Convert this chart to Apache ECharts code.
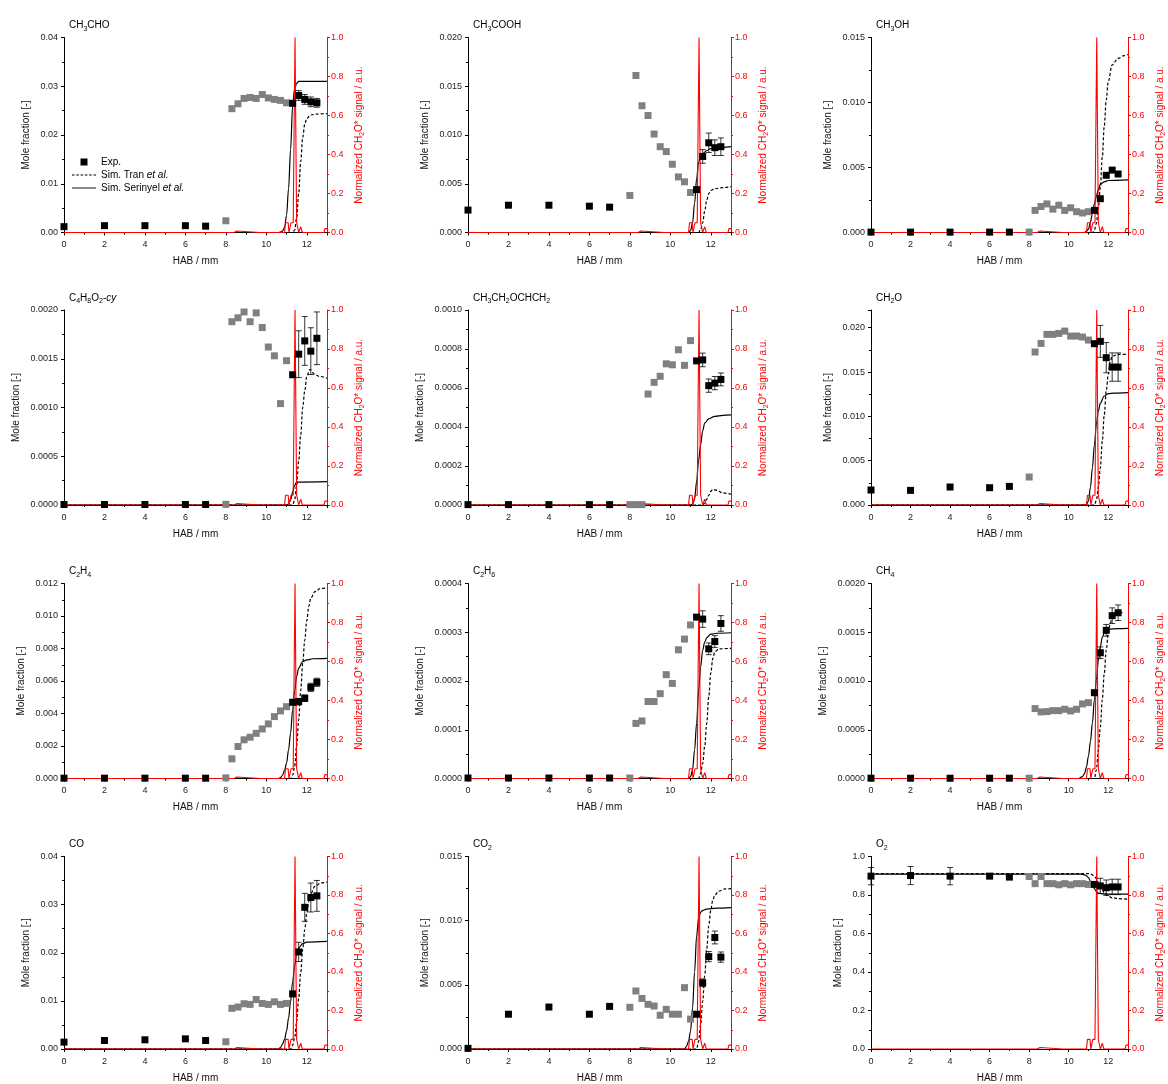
<!DOCTYPE html>
<html><head><meta charset="utf-8">
<script src="https://cdn.jsdelivr.net/npm/echarts@6/dist/echarts.min.js"></script>
<style>html,body{margin:0;padding:0;background:#fff}#c{width:1168px;height:1084px}</style>
</head><body><div id="c"></div>
<script>
// ---------------- DATA ----------------
const xBlack = [0, 2, 4, 6, 7, 11.3, 11.6, 11.9, 12.2, 12.5];
const xGrey = [8.0, 8.3, 8.6, 8.9, 9.2, 9.5, 9.8, 10.1, 10.4, 10.7, 11.0];

// normalized CH2O* chemiluminescence signal (same in every panel)
const signal = [[0,0],[8.4,0],[8.45,0.008],[8.55,0.008],[8.6,0],[9.7,0],[9.75,0.004],[9.8,0],[10.3,0],[10.35,0.004],[10.4,0],[10.9,0],[10.95,0.05],[11.08,0.05],[11.12,0],[11.18,0],[11.22,0.05],[11.33,0.05],[11.38,0.6],[11.42,1.0],[11.46,0.5],[11.5,0.05],[11.56,0.05],[11.6,0],[11.67,0],[11.7,0.03],[11.74,0.03],[11.78,0],[11.95,0],[12.0,0.01],[12.05,0],[12.85,0],[12.9,0.02],[13,0.02]];

// CH3CHO
const ch3cho_exp = [0.0012, 0.0014, 0.0014, 0.0014, 0.0013, 0.0265, 0.0281, 0.0273, 0.0268, 0.0266];
const ch3cho_err = [0, 0, 0, 0, 0, 0, 0.001, 0.001, 0.001, 0.0009];
const ch3cho_grey = [0.0024, 0.0254, 0.0264, 0.0275, 0.0277, 0.0275, 0.0283, 0.0276, 0.0273, 0.0271, 0.0266];
const ch3cho_ser = [[0,0],[10.6,0],[10.7,0.0001],[10.8,0.0003],[10.9,0.001],[11.0,0.0035],[11.1,0.009],[11.2,0.017],[11.3,0.026],[11.4,0.0295],[11.5,0.0306],[11.6,0.031],[13,0.031]];
const ch3cho_tran = [[0,0],[11.3,0],[11.4,0.0005],[11.5,0.003],[11.6,0.008],[11.7,0.0145],[11.8,0.0195],[11.9,0.0222],[12.0,0.0234],[12.2,0.0241],[12.5,0.0243],[13,0.0244]];

// CH3COOH
const ch3cooh_exp = [0.0023, 0.0028, 0.0028, 0.0027, 0.0026, 0.0044, 0.0078, 0.0092, 0.0087, 0.0088];
const ch3cooh_err = [0, 0, 0, 0, 0, 0, 0.0007, 0.001, 0.0008, 0.0009];
const ch3cooh_grey = [0.0038, 0.0161, 0.0130, 0.0120, 0.0101, 0.0088, 0.0083, 0.0070, 0.0057, 0.0052, 0.0041];
const ch3cooh_ser = [[0,0],[10.9,0],[11.0,0.0002],[11.1,0.001],[11.2,0.003],[11.3,0.0055],[11.4,0.0072],[11.5,0.0078],[11.6,0.0081],[11.8,0.0084],[12.0,0.0086],[12.3,0.0087],[13,0.0088]];
const ch3cooh_tran = [[0,0],[11.4,0],[11.5,0.0003],[11.6,0.001],[11.7,0.0022],[11.8,0.0033],[11.9,0.004],[12.0,0.0043],[12.2,0.0045],[12.6,0.0046],[13,0.0047]];

// CH3OH
const ch3oh_exp = [0.00003, 0.00003, 0.00003, 0.00003, 0.00003, 0.0017, 0.0026, 0.0044, 0.0048, 0.0045];
const ch3oh_err = [0, 0, 0, 0, 0, 0, 0.0001, 0.0001, 0.0001, 0.0001];
const ch3oh_grey = [0.00003, 0.0017, 0.0020, 0.0022, 0.0018, 0.0021, 0.0017, 0.0019, 0.0016, 0.0015, 0.0016];
const ch3oh_ser = [[0,0],[10.8,0],[10.9,0.0001],[11.0,0.00026],[11.1,0.0008],[11.2,0.0015],[11.3,0.0022],[11.4,0.0028],[11.5,0.0033],[11.6,0.0037],[11.8,0.0039],[12.0,0.004],[13,0.00405]];
const ch3oh_tran = [[0,0],[11.2,0],[11.3,0.0002],[11.4,0.0007],[11.5,0.0018],[11.6,0.0035],[11.7,0.0058],[11.8,0.0082],[11.9,0.0102],[12.0,0.0116],[12.2,0.0129],[12.5,0.0134],[12.8,0.0136],[13,0.0137]];

// C4H8O2-cy
const c4h8o2_exp = [0.000005, 0.000005, 0.000005, 0.000005, 0.000005, 0.001336, 0.001547, 0.001683, 0.001578, 0.00171];
const c4h8o2_err = [0, 0, 0, 0, 0, 0, 0.00024, 0.00025, 0.00024, 0.00027];
const c4h8o2_grey = [0.000007, 0.00188, 0.00192, 0.00198, 0.00188, 0.00197, 0.00182, 0.00162, 0.00153, 0.00104, 0.00148];
const c4h8o2_ser = [[0,0],[11.0,0],[11.1,0.00001],[11.2,0.00005],[11.3,0.00013],[11.4,0.0002],[11.5,0.000235],[13,0.00024]];
const c4h8o2_tran = [[0,0],[11.3,0],[11.4,0.00005],[11.5,0.0002],[11.6,0.00045],[11.7,0.00072],[11.8,0.001],[11.9,0.00117],[12.0,0.00132],[12.15,0.00139],[12.4,0.00134],[12.6,0.00132],[13,0.0013]];

// CH3CH2OCHCH2
const eve_exp = [0.000002, 0.000002, 0.000002, 0.000002, 0.000002, 0.000739, 0.000744, 0.000612, 0.000625, 0.000644];
const eve_err = [0, 0, 0, 0, 0, 0, 0.000035, 0.000034, 0.000034, 0.000033];
const eve_grey = [0.000002, 0.000002, 0.000002, 0.000569, 0.000629, 0.00066, 0.000724, 0.000719, 0.000796, 0.000716, 0.000843];
const eve_ser = [[0,0],[11.0,0],[11.1,0.000005],[11.2,0.00003],[11.3,0.00012],[11.4,0.00023],[11.5,0.00031],[11.6,0.00038],[11.7,0.00042],[11.9,0.000442],[12.2,0.000455],[12.6,0.00046],[13,0.000462]];
const eve_tran = [[0,0],[11.6,0],[11.7,0.00001],[11.8,0.00003],[11.9,0.00005],[12.0,0.00007],[12.1,0.00008],[12.3,0.000075],[12.6,0.000062],[13,0.000055]];

// CH2O
const ch2o_exp = [0.00169, 0.00165, 0.00203, 0.00195, 0.0021, 0.0182, 0.01846, 0.01662, 0.01556, 0.01556];
const ch2o_err = [0, 0, 0, 0, 0, 0, 0.0018, 0.0017, 0.0016, 0.0016];
const ch2o_grey = [0.00316, 0.01726, 0.01823, 0.01925, 0.01925, 0.01936, 0.01962, 0.01906, 0.01906, 0.01895, 0.01861];
const ch2o_ser = [[0,0],[10.8,0],[10.9,0.0001],[11.0,0.00045],[11.1,0.002],[11.2,0.0042],[11.3,0.0068],[11.4,0.0091],[11.5,0.0106],[11.6,0.0115],[11.8,0.0123],[12.0,0.01256],[12.3,0.01262],[13,0.01267]];
const ch2o_tran = [[0,0],[11.3,0],[11.4,0.0005],[11.5,0.002],[11.6,0.0042],[11.7,0.0072],[11.8,0.0102],[11.9,0.0129],[12.0,0.0147],[12.1,0.0162],[12.2,0.0168],[12.5,0.017],[13,0.017]];

// C2H4
const c2h4_exp = [0.00002, 0.00002, 0.00002, 0.00002, 0.00002, 0.00469, 0.00473, 0.00494, 0.00561, 0.00592];
const c2h4_err = [0, 0, 0, 0, 0, 0, 0.0002, 0.0002, 0.00025, 0.00025];
const c2h4_grey = [0.00004, 0.00121, 0.00197, 0.00238, 0.00254, 0.00278, 0.00305, 0.00336, 0.00381, 0.00416, 0.00442];
const c2h4_ser = [[0,0],[10.6,0],[10.7,0.00005],[10.8,0.0002],[10.9,0.0005],[11.0,0.00094],[11.1,0.00176],[11.2,0.0028],[11.3,0.0042],[11.4,0.0054],[11.5,0.0063],[11.6,0.0068],[11.8,0.0072],[12.0,0.0073],[12.3,0.00737],[13,0.00739]];
const c2h4_tran = [[0,0],[11.2,0],[11.3,0.0002],[11.4,0.00074],[11.5,0.002],[11.6,0.0036],[11.7,0.0054],[11.8,0.0071],[11.9,0.0085],[12.0,0.0097],[12.1,0.0106],[12.2,0.0111],[12.4,0.0115],[12.7,0.0117],[13,0.01173]];

// C2H6
const c2h6_exp = [0.000001, 0.000001, 0.000001, 0.000001, 0.000001, 0.000331, 0.000327, 0.000266, 0.000281, 0.000318];
const c2h6_err = [0, 0, 0, 0, 0, 0, 0.000017, 0.000012, 0.000012, 0.000016];
const c2h6_grey = [0.000001, 0.000113, 0.000118, 0.000158, 0.000158, 0.000174, 0.000213, 0.000195, 0.000264, 0.000286, 0.000315];
const c2h6_ser = [[0,0],[10.9,0],[11.0,0.000004],[11.1,0.000018],[11.2,0.000059],[11.3,0.000113],[11.4,0.000182],[11.5,0.000229],[11.6,0.000263],[11.7,0.00028],[11.8,0.000289],[12.0,0.000296],[12.3,0.000298],[13,0.000299]];
const c2h6_tran = [[0,0],[11.4,0],[11.5,0.000011],[11.6,0.000031],[11.7,0.000066],[11.8,0.000113],[11.9,0.000168],[12.0,0.000216],[12.1,0.000246],[12.2,0.00026],[12.4,0.000266],[13,0.000267]];

// CH4
const ch4_exp = [0.000003, 0.000003, 0.000003, 0.000003, 0.000003, 0.00088, 0.00129, 0.00152, 0.00167, 0.0017];
const ch4_err = [0, 0, 0, 0, 0, 0, 0.00006, 0.00006, 0.00008, 0.00008];
const ch4_grey = [0.000003, 0.000717, 0.000683, 0.000686, 0.000696, 0.000696, 0.00071, 0.000693, 0.00071, 0.000765, 0.000778];
const ch4_ser = [[0,0],[10.5,0],[10.7,0.00002],[10.8,0.00005],[10.9,0.00012],[11.0,0.00023],[11.1,0.00038],[11.2,0.00057],[11.3,0.00081],[11.4,0.00101],[11.5,0.00121],[11.6,0.00135],[11.7,0.00145],[11.8,0.00149],[12.0,0.00153],[12.5,0.001538],[13,0.00154]];
const ch4_tran = [[0,0],[11.3,0],[11.4,0.00009],[11.5,0.00029],[11.6,0.00053],[11.7,0.00081],[11.8,0.00108],[11.9,0.00132],[12.0,0.00149],[12.1,0.00159],[12.2,0.00166],[12.4,0.00169],[12.8,0.00171]];

// CO
const co_exp = [0.00143, 0.00177, 0.00191, 0.00211, 0.00177, 0.01145, 0.02017, 0.02944, 0.03148, 0.03182];
const co_err = [0, 0, 0, 0, 0, 0, 0.002, 0.0029, 0.003, 0.0032];
const co_grey = [0.0015, 0.00845, 0.00872, 0.0094, 0.00927, 0.01029, 0.00947, 0.00927, 0.00981, 0.00927, 0.00947];
const co_ser = [[0,0],[10.6,0],[10.7,0.0003],[10.8,0.001],[10.9,0.002],[11.0,0.0037],[11.1,0.0064],[11.2,0.0098],[11.3,0.0139],[11.4,0.0173],[11.5,0.0197],[11.6,0.021],[11.8,0.0219],[12.0,0.0222],[13,0.02235]];
const co_tran = [[0,0],[11.2,0],[11.3,0.0008],[11.4,0.0023],[11.5,0.0057],[11.6,0.0105],[11.7,0.0159],[11.8,0.0207],[11.9,0.0248],[12.0,0.0282],[12.1,0.0306],[12.2,0.0323],[12.4,0.0338],[12.7,0.0345],[13,0.03468]];

// CO2
const co2_exp = [0.00005, 0.00271, 0.00327, 0.00271, 0.00332, 0.00271, 0.00516, 0.0072, 0.00869, 0.00716];
const co2_err = [0, 0, 0, 0, 0, 0, 0.0003, 0.0004, 0.0005, 0.0004];
const co2_grey = [0.00325, 0.00452, 0.00394, 0.00348, 0.00335, 0.00263, 0.00309, 0.00271, 0.00271, 0.00478, 0.00233];
const co2_ser = [[0,0],[10.7,0],[10.8,0.0002],[10.9,0.0006],[11.0,0.0014],[11.1,0.0032],[11.2,0.006],[11.3,0.0088],[11.4,0.0102],[11.5,0.01066],[11.6,0.0108],[11.8,0.0109],[12.3,0.01097],[13,0.01101]];
const co2_tran = [[0,0],[11.3,0],[11.4,0.0006],[11.5,0.0019],[11.6,0.0037],[11.7,0.0057],[11.8,0.0078],[11.9,0.0096],[12.0,0.0108],[12.1,0.0116],[12.2,0.012],[12.4,0.0123],[12.7,0.01247],[13,0.0125]];

// O2
const o2_exp = [0.898, 0.901, 0.898, 0.898, 0.893, 0.855, 0.847, 0.838, 0.842, 0.842];
const o2_err = [0.045, 0.047, 0.045, 0, 0, 0, 0.04, 0.04, 0.04, 0.04];
const o2_grey = [0.896, 0.859, 0.896, 0.859, 0.859, 0.853, 0.859, 0.853, 0.859, 0.859, 0.855];
const o2_ser = [[0,0.908],[10.6,0.908],[10.7,0.907],[10.8,0.905],[10.9,0.9],[11.0,0.89],[11.1,0.872],[11.2,0.852],[11.3,0.833],[11.4,0.818],[11.5,0.81],[11.7,0.806],[12.0,0.805],[13,0.805]];
const o2_tran = [[0,0.911],[11.0,0.911],[11.1,0.91],[11.2,0.905],[11.3,0.897],[11.4,0.885],[11.5,0.866],[11.6,0.846],[11.7,0.827],[11.8,0.812],[11.9,0.801],[12.0,0.794],[12.2,0.786],[12.5,0.781],[13,0.778]];

// panel titles and left-axis ranges
const titles = ['CH{s|3}CHO','CH{s|3}COOH','CH{s|3}OH','C{s|4}H{s|8}O{s|2}-{i|cy}','CH{s|3}CH{s|2}OCHCH{s|2}','CH{s|2}O','C{s|2}H{s|4}','C{s|2}H{s|6}','CH{s|4}','CO','CO{s|2}','O{s|2}'];
const yMax = [0.04, 0.02, 0.015, 0.002, 0.001, 0.022, 0.012, 0.0004, 0.002, 0.04, 0.015, 1.0];
const yStep = [0.01, 0.005, 0.005, 0.0005, 0.0002, 0.005, 0.002, 0.0001, 0.0005, 0.01, 0.005, 0.2];
const yDec = [2, 3, 3, 4, 4, 3, 3, 4, 4, 2, 3, 1];
const xTicks = {min: 0, max: 13, step: 2};
const sigTicks = {min: 0, max: 1, step: 0.2};

const expAll = [ch3cho_exp, ch3cooh_exp, ch3oh_exp, c4h8o2_exp, eve_exp, ch2o_exp, c2h4_exp, c2h6_exp, ch4_exp, co_exp, co2_exp, o2_exp];
const errAll = [ch3cho_err, ch3cooh_err, ch3oh_err, c4h8o2_err, eve_err, ch2o_err, c2h4_err, c2h6_err, ch4_err, co_err, co2_err, o2_err];
const greyAll = [ch3cho_grey, ch3cooh_grey, ch3oh_grey, c4h8o2_grey, eve_grey, ch2o_grey, c2h4_grey, c2h6_grey, ch4_grey, co_grey, co2_grey, o2_grey];
const serAll = [ch3cho_ser, ch3cooh_ser, ch3oh_ser, c4h8o2_ser, eve_ser, ch2o_ser, c2h4_ser, c2h6_ser, ch4_ser, co_ser, co2_ser, o2_ser];
const tranAll = [ch3cho_tran, ch3cooh_tran, ch3oh_tran, c4h8o2_tran, eve_tran, ch2o_tran, c2h4_tran, c2h6_tran, ch4_tran, co_tran, co2_tran, o2_tran];

// ---------------- LAYOUT / STYLE ----------------
const FONT = "'Liberation Sans', Arial, sans-serif";
const colLeft = [64, 468, 871];
const rowTop = [37.5, 310, 583.5, 856.5];
const PW = 263, PH = 195;
const RED = '#ff0000';
const subRich = (color) => ({
  s: {fontSize: 7, lineHeight: 7, verticalAlign: 'bottom', fontFamily: FONT, color: color},
  i: {fontSize: 10, fontStyle: 'italic', fontFamily: FONT, color: color}
});

const grid = [], xAxis = [], yAxis = [], series = [], title = [];

for (let i = 0; i < 12; i++) {
  const r = Math.floor(i / 3), c = i % 3;
  grid.push({left: colLeft[c], top: rowTop[r], width: PW, height: PH, containLabel: false});
  title.push({
    text: titles[i], left: colLeft[c], top: rowTop[r] - 24,
    textStyle: {fontSize: 10, fontWeight: 'normal', fontFamily: FONT, color: '#000', lineHeight: 14, rich: subRich('#000')}
  });
  xAxis.push({
    gridIndex: i, type: 'value', min: xTicks.min, max: xTicks.max, interval: xTicks.step,
    name: 'HAB / mm', nameLocation: 'middle', nameGap: 24,
    nameTextStyle: {fontSize: 10, fontFamily: FONT, color: '#111'},
    axisLine: {lineStyle: {color: '#000', width: 1}},
    axisTick: {length: 3, lineStyle: {color: '#000'}},
    minorTick: {show: true, splitNumber: 2, length: 2, lineStyle: {color: '#000'}},
    axisLabel: {fontSize: 9, fontFamily: FONT, color: '#222', margin: 8, showMaxLabel: false},
    splitLine: {show: false}
  });
  const dec = yDec[i];
  yAxis.push({
    gridIndex: i, type: 'value', position: 'left', min: 0, max: yMax[i], interval: yStep[i],
    name: 'Mole fraction [-]', nameLocation: 'middle', nameGap: 23 + 5 * dec, nameRotate: 90,
    nameTextStyle: {fontSize: 10, fontFamily: FONT, color: '#111'},
    axisLine: {show: true, lineStyle: {color: '#000', width: 1}},
    axisTick: {show: true, length: 3, lineStyle: {color: '#000'}},
    minorTick: {show: true, splitNumber: 2, length: 2, lineStyle: {color: '#000'}},
    axisLabel: {fontSize: 9, fontFamily: FONT, color: '#222', margin: 6,
      showMaxLabel: i !== 5, formatter: v => v.toFixed(dec)},
    splitLine: {show: false}
  });
  yAxis.push({
    gridIndex: i, type: 'value', position: 'right', min: sigTicks.min, max: sigTicks.max, interval: sigTicks.step,
    name: 'Normalized CH{s|2}O* signal / a.u.', nameLocation: 'middle', nameGap: 25, nameRotate: 90,
    nameTextStyle: {fontSize: 10, fontFamily: FONT, color: RED, lineHeight: 14, rich: subRich(RED)},
    axisLine: {show: true, lineStyle: {color: RED, width: 1}},
    axisTick: {show: true, length: 3, lineStyle: {color: RED}},
    minorTick: {show: true, splitNumber: 2, length: 2, lineStyle: {color: RED}},
    axisLabel: {fontSize: 9, fontFamily: FONT, color: RED, margin: 4, formatter: v => v.toFixed(1)},
    splitLine: {show: false}
  });

  const xi = i, yl = 2 * i, yr = 2 * i + 1;
  series.push({
    name: 'Sim. Serinyel et al.', type: 'line', xAxisIndex: xi, yAxisIndex: yl,
    data: serAll[i], showSymbol: false, symbol: 'none', smooth: 0.35, smoothMonotone: 'x',
    lineStyle: {color: '#000', width: 1.2}, itemStyle: {color: '#000'}, z: 2, silent: true
  });
  series.push({
    name: 'Sim. Tran et al.', type: 'line', xAxisIndex: xi, yAxisIndex: yl,
    data: tranAll[i], showSymbol: false, symbol: 'none', smooth: 0.35, smoothMonotone: 'x',
    lineStyle: {color: '#000', width: 1.2, type: [3, 2]}, itemStyle: {color: '#000'}, z: 2, silent: true
  });
  series.push({
    name: 'CH2O* signal', type: 'line', xAxisIndex: xi, yAxisIndex: yr,
    data: signal, showSymbol: false, symbol: 'none',
    lineStyle: {color: RED, width: 1.1}, itemStyle: {color: RED}, z: 3, silent: true
  });
  series.push({
    name: 'Exp. (grey)', type: 'scatter', xAxisIndex: xi, yAxisIndex: yl,
    data: xGrey.map((x, k) => [x, greyAll[i][k]]), symbol: 'rect', symbolSize: 7,
    itemStyle: {color: '#808080', opacity: 1}, z: 4, silent: true
  });
  series.push({
    name: 'Exp.', type: 'scatter', xAxisIndex: xi, yAxisIndex: yl,
    data: xBlack.map((x, k) => [x, expAll[i][k]]), symbol: 'rect', symbolSize: 7,
    itemStyle: {color: '#000', opacity: 1}, z: 5, silent: true
  });
  series.push({
    name: 'Exp. error', type: 'custom', xAxisIndex: xi, yAxisIndex: yl,
    data: xBlack.map((x, k) => [x, expAll[i][k], errAll[i][k]]).filter(d => d[2] > 0),
    encode: {x: 0, y: 1}, z: 5, silent: true,
    renderItem: function (params, api) {
      const x = api.value(0), y = api.value(1), e = api.value(2);
      const top = api.coord([x, y + e]);
      const bot = api.coord([x, y - e]);
      const w = 3;
      const st = {stroke: '#000', lineWidth: 0.8};
      return {type: 'group', children: [
        {type: 'line', shape: {x1: top[0], y1: top[1], x2: bot[0], y2: bot[1]}, style: st},
        {type: 'line', shape: {x1: top[0] - w, y1: top[1], x2: top[0] + w, y2: top[1]}, style: st},
        {type: 'line', shape: {x1: bot[0] - w, y1: bot[1], x2: bot[0] + w, y2: bot[1]}, style: st}
      ]};
    }
  });
}

const option = {
  animation: false,
  backgroundColor: '#fff',
  title: title,
  grid: grid,
  xAxis: xAxis,
  yAxis: yAxis,
  legend: {
    data: [
      {name: 'Exp.', icon: 'path://M0 0H10V10H0Z'},
      {name: 'Sim. Tran et al.', icon: 'path://M0 0H3V1H0Z M5 0H8V1H5Z M10 0H13V1H10Z M15 0H18V1H15Z M20 0H23V1H20Z M25 0H28V1H25Z'},
      {name: 'Sim. Serinyel et al.', icon: 'path://M0 0H28V1.1H0Z'}
    ],
    symbolKeepAspect: true,
    orient: 'vertical', left: 72, top: 157, padding: 0, itemWidth: 24, itemHeight: 7, itemGap: 3,
    selectedMode: false,
    itemStyle: {color: '#000', borderWidth: 0},
    textStyle: {fontSize: 10, fontFamily: FONT, color: '#000',
      rich: {i: {fontSize: 10, fontStyle: 'italic', fontFamily: FONT, color: '#000'}}},
    formatter: name => name.replace('et al.', '{i|et al.}')
  },
  series: series
};

const chart = echarts.init(document.getElementById('c'), null, {renderer: 'canvas'});
chart.setOption(option);
</script></body></html>
